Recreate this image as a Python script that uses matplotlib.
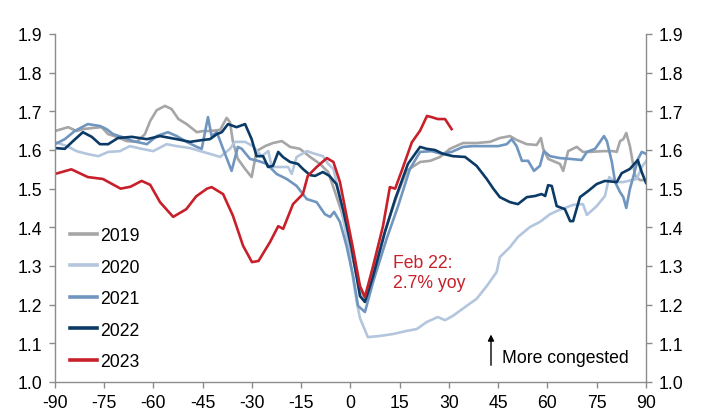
import matplotlib.pyplot as plt
from matplotlib.lines import Line2D

plt.rcParams['font.family'] = ['Liberation Sans', 'DejaVu Sans']

# dias relativos al año nuevo lunar y el indice de congestion
x_2019 = [-90, -88, -86, -83.4, -81.4, -78.4, -75.8, -73.8, -71.2, -68.2, -65.1, -62.6, -61, -59, -56.5,
          -54.5, -52.4, -49.9, -46.8, -44.9, -42.8, -39.7, -37.7, -36.7, -35.8, -34.3, -32.1, -30.1,
          -28.6, -26, -23.6, -20.9, -18.4, -15.4, -12.3, -9.3, -6.8, -4.7, -2.7, -0.2, 1.9, 3.2, 4.5,
          6, 6.9, 10.5, 14.1, 17.1, 21.2, 24.3, 27.3, 30.3, 34.3, 38.4, 42.5, 45.5, 48.6, 50.6, 53.7,
          56.7, 58, 58.7, 60.2, 62.4, 63.8, 64.8, 66.3, 68.9, 70.8, 73, 76.9, 80, 81.1, 82.1, 83.1, 84,
          85.1, 86.7, 88.2, 90]
y_2019 = [1.649, 1.654, 1.659, 1.649, 1.654, 1.657, 1.659, 1.641, 1.634, 1.623, 1.621, 1.641, 1.675,
          1.703, 1.714, 1.706, 1.68, 1.667, 1.646, 1.649, 1.649, 1.652, 1.683, 1.672, 1.621, 1.577,
          1.551, 1.53, 1.597, 1.61, 1.618, 1.623, 1.608, 1.603, 1.582, 1.564, 1.543, 1.491, 1.44,
          1.352, 1.274, 1.235, 1.212, 1.24, 1.284, 1.39, 1.481, 1.546, 1.569, 1.572, 1.582, 1.603,
          1.618, 1.618, 1.621, 1.631, 1.636, 1.626, 1.615, 1.613, 1.631, 1.603, 1.577, 1.569, 1.564,
          1.546, 1.597, 1.608, 1.595, 1.595, 1.597, 1.597, 1.595, 1.623, 1.628, 1.644, 1.61, 1.533,
          1.522, 1.522]

x_2020 = [-90, -86.4, -83.4, -80.3, -76.8, -73.8, -70.2, -67.2, -63.6, -60.1, -56, -52.9, -48.9, -44.9,
          -42.8, -39.7, -36.7, -35.2, -32.1, -29.7, -27.1, -25, -24, -21.5, -19, -17.9, -16.4, -13.3,
          -10.8, -8.4, -6.8, -5.2, -3.2, -0.8, 1.9, 2.9, 5.3, 8.9, 12.9, 17.1, 20.2, 23.2, 26.6, 28.8,
          31.2, 35.4, 38.4, 41.5, 44.5, 45.5, 48.6, 51, 54.7, 57.7, 60.8, 62.8, 65.9, 67.8, 70.8, 72,
          75, 77.5, 78.8, 80.6, 83.1, 87.2, 88.7, 90]
y_2020 = [1.621, 1.61, 1.597, 1.59, 1.584, 1.595, 1.597, 1.61, 1.603, 1.597, 1.615, 1.61, 1.605, 1.595,
          1.59, 1.582, 1.603, 1.621, 1.621, 1.61, 1.584, 1.597, 1.556, 1.556, 1.556, 1.538, 1.582,
          1.597, 1.59, 1.584, 1.564, 1.551, 1.481, 1.352, 1.207, 1.165, 1.116, 1.119, 1.124, 1.132,
          1.137, 1.155, 1.168, 1.16, 1.171, 1.197, 1.215, 1.248, 1.284, 1.323, 1.349, 1.375, 1.401,
          1.414, 1.434, 1.442, 1.452, 1.458, 1.46, 1.432, 1.455, 1.481, 1.53, 1.517, 1.517, 1.525,
          1.556, 1.571]

x_2021 = [-90, -87, -84, -80, -76.3, -74.3, -72.3, -69.7, -66.2, -62, -59, -55.6, -52.9, -49.9, -46.8,
          -45.3, -43.4, -42.3, -40.7, -38.8, -36.2, -34.3, -33.1, -30.6, -28.2, -25.5, -22.5, -19.4,
          -16.4, -13.3, -10.3, -7.8, -6.2, -5, -3.2, -1.2, 0.8, 2.3, 4.4, 6.9, 11, 14.5, 18.1, 21.2,
          24.7, 27.8, 30.8, 34.3, 37.3, 41.5, 45, 47.6, 49.1, 50.6, 52.2, 54.1, 55.9, 57.7, 58.9,
          60.8, 63.8, 66.9, 70.4, 72, 74.5, 76, 77.2, 78.1, 79.6, 80.6, 82.1, 83.1, 84, 85.1, 86.1,
          87.6, 88.7, 90]
y_2021 = [1.615, 1.628, 1.649, 1.667, 1.662, 1.654, 1.641, 1.634, 1.623, 1.615, 1.636, 1.646, 1.636,
          1.621, 1.608, 1.603, 1.685, 1.636, 1.646, 1.603, 1.546, 1.608, 1.603, 1.577, 1.572, 1.564,
          1.538, 1.525, 1.507, 1.473, 1.465, 1.434, 1.427, 1.44, 1.414, 1.352, 1.274, 1.197, 1.181,
          1.259, 1.37, 1.455, 1.551, 1.595, 1.597, 1.59, 1.595, 1.608, 1.61, 1.61, 1.61, 1.615, 1.628,
          1.61, 1.572, 1.572, 1.546, 1.559, 1.597, 1.584, 1.579, 1.577, 1.574, 1.595, 1.603, 1.621,
          1.636, 1.623, 1.569, 1.517, 1.491, 1.478, 1.45, 1.499, 1.53, 1.577, 1.595, 1.59]

x_2022 = [-90, -87, -84.5, -81.5, -78.8, -76.3, -73.8, -70.8, -66.6, -62, -58, -52.9, -48.9, -44.9,
          -42.8, -40.7, -39.2, -37.3, -34.7, -32.1, -30.1, -28.6, -26.6, -25.1, -23.6, -22, -20.6,
          -18.4, -16, -14.5, -12.3, -10.8, -8.4, -6.4, -4.3, -2.3, 0.4, 2.9, 4.4, 6.9, 10.5, 13.6,
          17.5, 21.2, 23.2, 25.7, 28.2, 31.2, 34.9, 38.4, 41.5, 43.5, 45.5, 48.6, 51, 53.7, 56.2, 58.2,
          59.3, 60.2, 61.3, 62.8, 65.3, 66.9, 67.8, 69.9, 72.4, 75, 77.5, 81.1, 82.6, 85.1, 87.5,
          88.7, 90]
y_2022 = [1.605, 1.603, 1.623, 1.646, 1.634, 1.615, 1.615, 1.631, 1.634, 1.628, 1.636, 1.628, 1.621,
          1.626, 1.628, 1.641, 1.646, 1.667, 1.659, 1.667, 1.628, 1.584, 1.584, 1.556, 1.559, 1.595,
          1.582, 1.569, 1.564, 1.551, 1.535, 1.533, 1.543, 1.533, 1.512, 1.447, 1.344, 1.222, 1.207,
          1.274, 1.388, 1.473, 1.564, 1.608, 1.603, 1.6, 1.59, 1.584, 1.582, 1.559, 1.525, 1.5, 1.478,
          1.465, 1.46, 1.478, 1.481, 1.486, 1.481, 1.509, 1.507, 1.455, 1.447, 1.416, 1.416, 1.478,
          1.494, 1.512, 1.52, 1.517, 1.54, 1.551, 1.574, 1.543, 1.515]

x_2023 = [-90, -85, -80, -75.4, -70, -67, -63.6, -61, -58, -54, -50, -47, -43.7, -42.3, -38.8, -35.8,
          -32.7, -30, -28, -24.5, -22, -20.5, -17.5, -14.5, -13, -10.3, -7.2, -5.2, -3.2, -1.2, 0.8,
          2.9, 4.4, 6.9, 9.9, 12, 13.6, 15.6, 18.7, 21.2, 23.3, 24.7, 26.6, 28.8, 30.8]
y_2023 = [1.538, 1.55, 1.53, 1.525, 1.5, 1.505, 1.52, 1.51, 1.465, 1.427, 1.447, 1.48, 1.5, 1.504,
          1.486, 1.43, 1.352, 1.31, 1.313, 1.362, 1.403, 1.396, 1.46, 1.486, 1.533, 1.556, 1.579,
          1.569, 1.517, 1.43, 1.344, 1.248, 1.22, 1.3, 1.403, 1.504, 1.5, 1.546, 1.62, 1.65, 1.688,
          1.685, 1.68, 1.68, 1.654]

series = [
    ('2019', x_2019, y_2019, '#a6a6a6'),
    ('2020', x_2020, y_2020, '#b3c6dd'),
    ('2021', x_2021, y_2021, '#7096c0'),
    ('2022', x_2022, y_2022, '#0c3a66'),
    ('2023', x_2023, y_2023, '#c8202b'),
]

xticks = list(range(-90, 91, 15))
yticks = [1.0, 1.1, 1.2, 1.3, 1.4, 1.5, 1.6, 1.7, 1.8, 1.9]

fig = plt.figure(figsize=(7.02, 4.14), dpi=100)
ax = fig.add_axes([0.0783, 0.0749, 0.8419, 0.8406])

for nombre, xs, ys, color in series:
    ax.plot(xs, ys, color=color, lw=1.9, label=nombre, solid_joinstyle='round')

ax.set_xlim(-90, 90)
ax.set_ylim(1.0, 1.9)
ax.set_xticks(xticks)
ax.set_xticklabels([str(t) for t in xticks])
ax.set_yticks(yticks)
ax.set_yticklabels([f'{t:.1f}' for t in yticks])

ax.spines['top'].set_visible(False)
for lado in ['left', 'right', 'bottom']:
    ax.spines[lado].set_color('#8c8c8c')
    ax.spines[lado].set_linewidth(1.0)
ax.yaxis.set_ticks_position('both')
ax.tick_params(axis='both', direction='out', length=4, width=1.0, color='#8c8c8c',
               labelsize=12.7, labelcolor='black')
ax.tick_params(axis='y', labelright=True, pad=5)
ax.tick_params(axis='x', pad=5)

handles = [Line2D([0], [0], color=c, lw=2.6) for _, _, _, c in series]
ax.legend(handles, [s[0] for s in series], loc='upper left', bbox_to_anchor=(0.025, 0.445),
          frameon=False, fontsize=12.7, handlelength=1.55, handletextpad=0.15,
          labelspacing=0.82, borderaxespad=0, borderpad=0)

ax.text(13.0, 1.331, 'Feb 22:\n2.7% yoy', color='#c8202b', fontsize=12.7, ha='left', va='top',
        linespacing=1.25)
ax.annotate('', xy=(42.8, 1.13), xytext=(42.8, 1.036),
            arrowprops=dict(arrowstyle='-|>', color='black', lw=1.0, mutation_scale=9))
ax.text(46.2, 1.063, 'More congested', color='black', fontsize=12.7, ha='left', va='center')

plt.savefig('out.png', dpi=100)
